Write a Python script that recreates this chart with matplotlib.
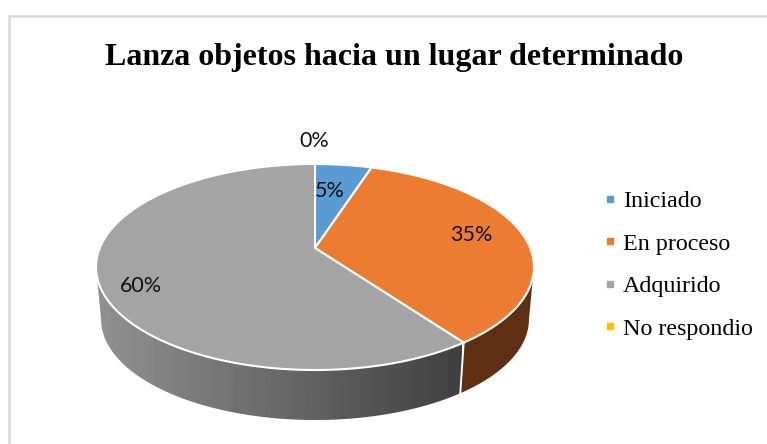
import numpy as np
import matplotlib
matplotlib.use('Agg')
import matplotlib.pyplot as plt
from matplotlib.lines import Line2D
from matplotlib.patches import Polygon

title = "Lanza objetos hacia un lugar determinado"
categories = ['Iniciado', 'En proceso', 'Adquirido', 'No respondio']
values = [5, 35, 60, 0]
colors = ['#5B9BD5', '#EB7C31', '#A4A4A4', '#FFC000']
wall_colors = ['#2F5673', '#5E2F12', None, '#7F6000']
label_pos = [(330, 191), (471, 235), (141, 286), (314, 141)]

# perspective of the pie, in pixels
cx = 315
top_y = 248
bot_y = 300.8
R = 215.2
S = 99.5
k = 0.1845
bot_scale = 0.977


def rim(deg, y0=top_y, s=1.0):
    t = np.radians(deg)
    w = 1 + k * np.cos(t)
    return cx + s * R * np.sin(t) / w, y0 - s * S * np.cos(t) / w


fig = plt.figure(figsize=(7.67, 4.44), dpi=100)
ax = fig.add_axes([0, 0, 1, 1])
ax.axis('off')

# chart frame, only left and top are inside the picture
ax.plot([8.5, 8.5, 767], [444, 16.5, 16.5], color='#D9D9D9', lw=1.8)

edges = np.cumsum([0] + values) * 360 / sum(values)

# side wall first, it runs between the widest points of the rim
side = np.degrees(np.arccos(-k))
for i in range(len(values)):
    a1 = max(edges[i], side)
    a2 = min(edges[i + 1], 360 - side)
    if a2 <= a1:
        continue
    ang = np.linspace(a1, a2, 200)
    xt, yt = rim(ang)
    xb, yb = rim(ang, bot_y, bot_scale)
    outline = np.c_[np.r_[xt, xb[::-1]], np.r_[yt, yb[::-1]]]
    if wall_colors[i] is None:
        # grey part gets a left to right gradient
        grad = np.linspace(0.57, 0.25, 256).reshape(1, -1)
        im = ax.imshow(grad, extent=[96, 462, 444, 0], aspect='auto',
                       cmap='gray', vmin=0, vmax=1)
        im.set_clip_path(Polygon(outline, transform=ax.transData))
    else:
        ax.fill(outline[:, 0], outline[:, 1], color=wall_colors[i], lw=0)

# white line on the wall between the slices
for e in edges[1:-1]:
    if side < e < 360 - side:
        xa, ya = rim(e)
        xd, yd = rim(e, bot_y, bot_scale)
        ax.plot([xa, xd], [ya, yd], color='white', lw=1.4)

# top face
for i in range(len(values)):
    if values[i] == 0:
        continue
    ang = np.linspace(edges[i], edges[i + 1], 200)
    xs, ys = rim(ang)
    ax.fill(np.r_[cx, xs], np.r_[top_y, ys], facecolor=colors[i],
            edgecolor='white', lw=1.5, joinstyle='round')

for v, (x, y) in zip(values, label_pos):
    ax.text(x, y, f"{v}%", ha='center', va='center', fontsize=15.5,
            family='Lato', color='#111111')

ax.text(394, 58, title, ha='center', va='center', fontsize=23,
        family='Liberation Serif', weight='bold', color='black')

ax.set_xlim(0, 767)
ax.set_ylim(444, 0)

handles = [Line2D([], [], ls='', marker='s', ms=5, color=c) for c in colors]
ax.legend(handles, categories, loc='center left', bbox_to_anchor=(576, 265),
          bbox_transform=ax.transData, frameon=False, handlelength=1,
          handletextpad=0.05, labelspacing=0.865,
          prop={'family': 'Liberation Serif', 'size': 17.3})

fig.savefig('out.png', dpi=100)
